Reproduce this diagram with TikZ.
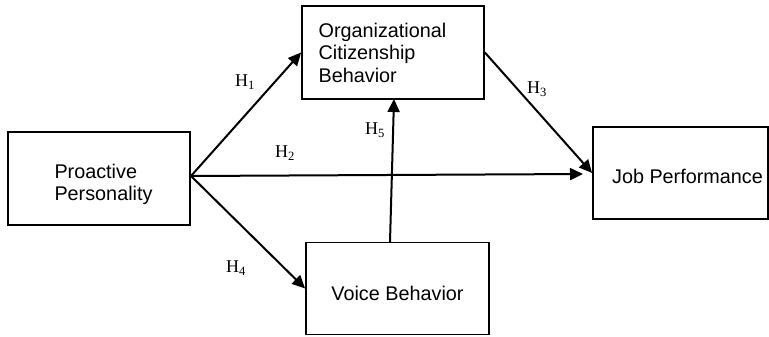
\documentclass[tikz,border=0pt]{standalone}
\usepackage{fontspec}
\setmainfont{Liberation Sans}
\newfontfamily\labfont{Liberation Serif}
\usetikzlibrary{arrows.meta}
\tikzset{
  box/.style={draw, line width=1.8pt, minimum width=#1, minimum height=93pt, inner sep=0pt, align=left,
    font=\fontsize{19.8pt}{22.5pt}\selectfont},
  arr/.style={line width=2pt, -{Triangle[length=13pt,width=12pt]}},
  hlab/.style={font=\labfont\fontsize{18pt}{20pt}\selectfont, inner sep=0pt}
}
\newcommand{\hsub}[1]{H\textsubscript{#1}}
\begin{document}
\begin{tikzpicture}[x=1pt,y=-1pt]
\useasboundingbox (0,0) rectangle (769,337);
\node[box=182pt] (pp) at (99,178.5) {\rule{0pt}{26pt}\hspace*{9pt}Proactive\\\hspace*{9pt}Personality};
\node[box=182pt] (ocb) at (393,52.5) {Organizational\hspace*{21pt}\\Citizenship\\Behavior};
\node[box=183pt, minimum height=92pt] (vb) at (397.5,288.5) {\rule{0pt}{24pt}Voice Behavior};
\node[box=175pt, minimum height=92pt] (job) at (680.5,173) {\rule{0pt}{22pt}\hspace*{14pt}Job Performance};
\coordinate (src) at (191,176);
\coordinate (h2end) at (583,174);
\coordinate (h5start) at (390,242);
\coordinate (h5end) at (394,99);
\draw[arr] (src) -- (ocb.west);
\draw[arr] (src) -- (h2end);
\draw[arr] (src) -- (vb.west);
\draw[arr] (ocb.east) -- (job.west);
\draw[arr] (h5start) -- (h5end);
\node[hlab] (l1) at (245,82) {\hsub{1}};
\node[hlab] (l2) at (285,153) {\hsub{2}};
\node[hlab] (l3) at (537,89) {\hsub{3}};
\node[hlab] (l4) at (236,268) {\hsub{4}};
\node[hlab] (l5) at (375,130) {\hsub{5}};
\end{tikzpicture}
\end{document}
